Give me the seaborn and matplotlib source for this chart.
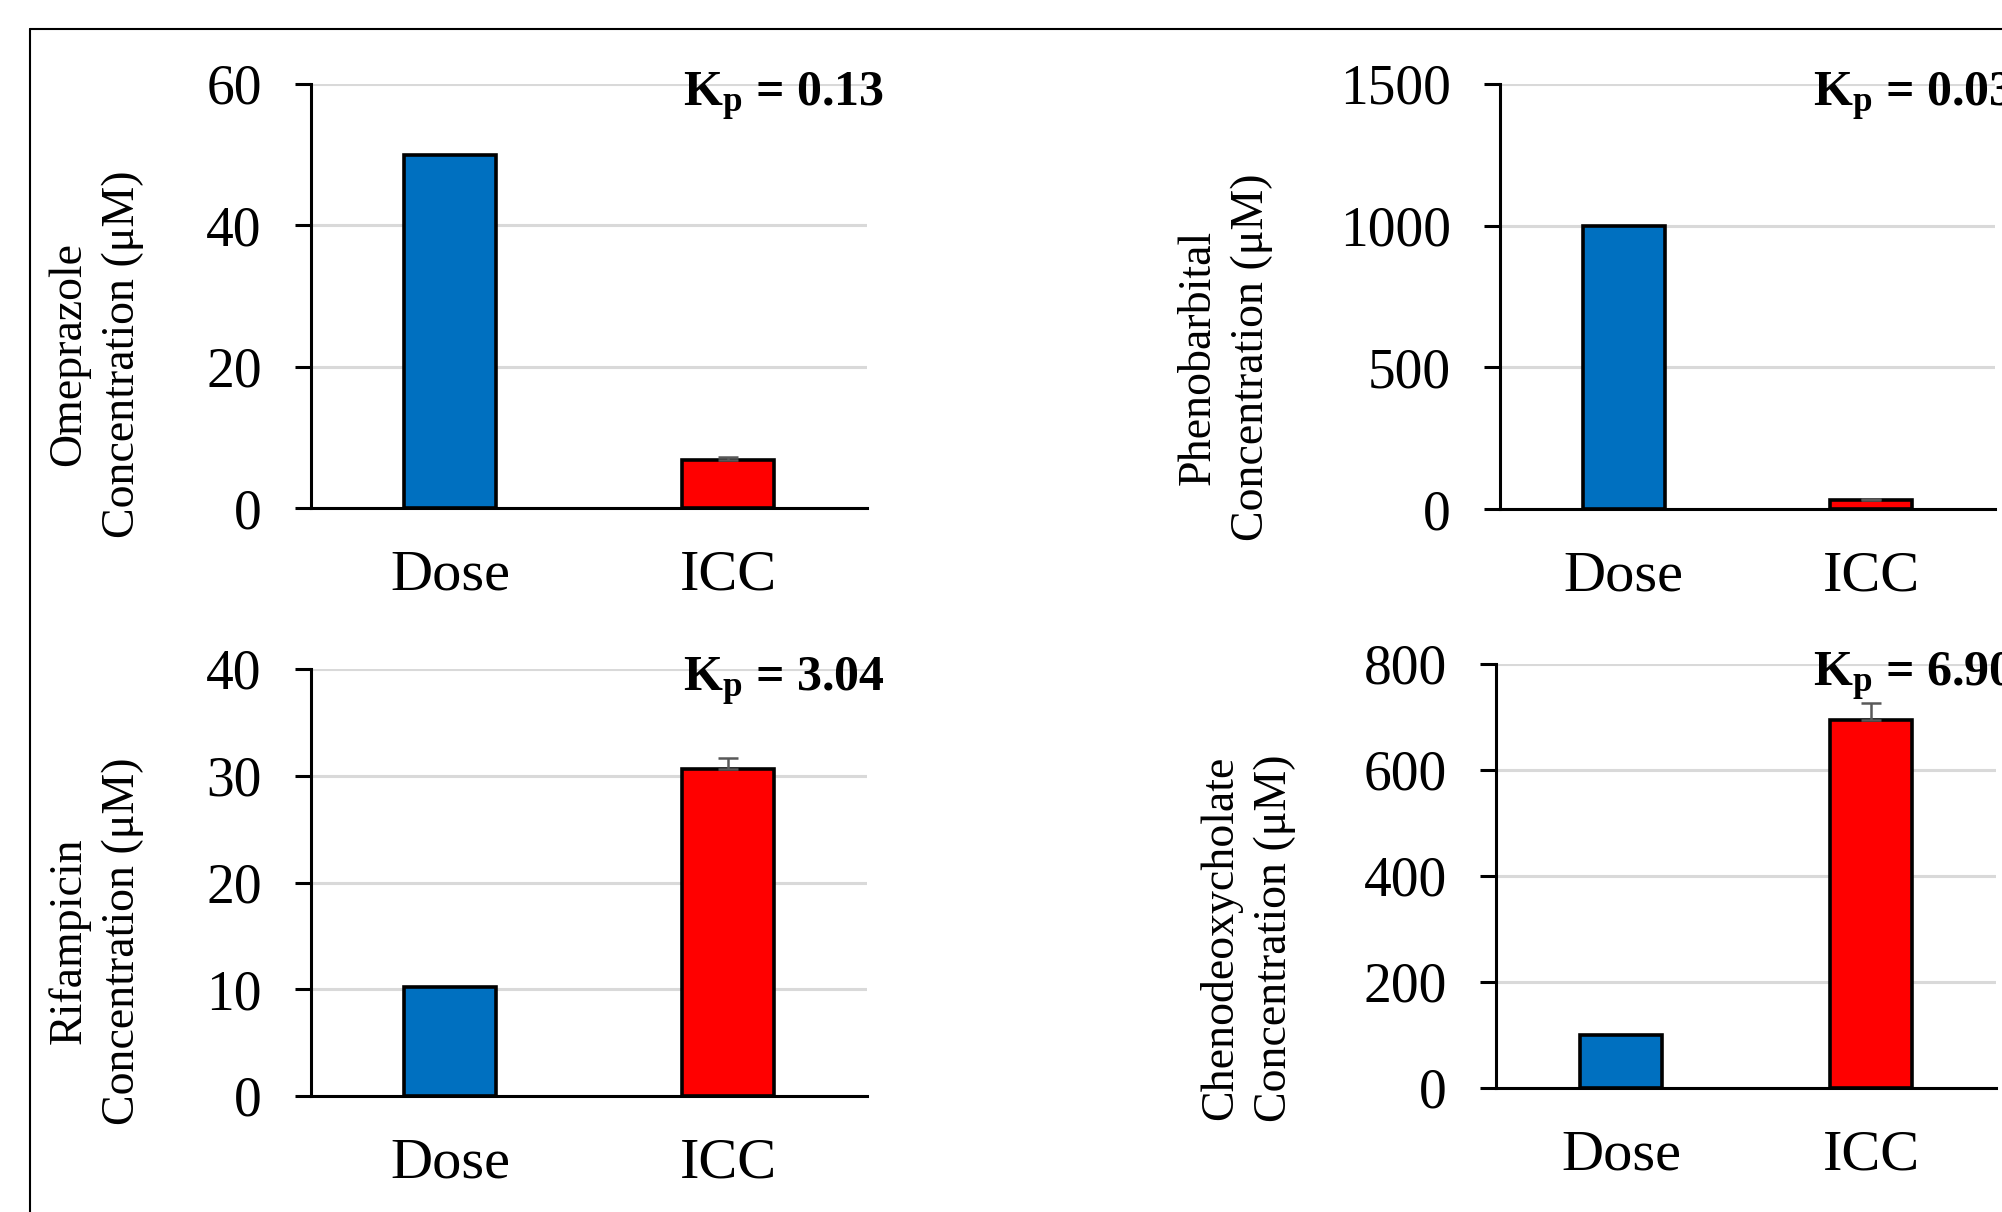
import matplotlib
matplotlib.use("Agg")
import matplotlib.pyplot as plt
import seaborn as sns
import pandas as pd
from matplotlib.lines import Line2D

# ---------------- data ----------------
categories = ["Dose", "ICC"]

omeprazole_vals = [50.0, 6.8]
omeprazole_err = [0.0, 0.4]
phenobarbital_vals = [1000.0, 32.0]
phenobarbital_err = [0.0, 5.0]
rifampicin_vals = [10.2, 30.6]
rifampicin_err = [0.0, 1.1]
cdca_vals = [100.0, 695.0]
cdca_err = [0.0, 32.0]

kp_labels = ["0.13", "0.03", "3.04", "6.90"]
ylabels = ["Omeprazole\nConcentration (μM)",
           "Phenobarbital\nConcentration (μM)",
           "Rifampicin\nConcentration (μM)",
           "Chenodeoxycholate\nConcentration (μM)"]
yticks_list = [[0, 20, 40, 60], [0, 500, 1000, 1500],
               [0, 10, 20, 30, 40], [0, 200, 400, 600, 800]]

# ---------------- style ----------------
sns.set_theme(style="white")
plt.rcParams["font.family"] = ["Liberation Serif", "DejaVu Serif"]
plt.rcParams["mathtext.fontset"] = "custom"
plt.rcParams["mathtext.rm"] = "Liberation Serif"
plt.rcParams["mathtext.bf"] = "Liberation Serif:bold"
plt.rcParams["mathtext.it"] = "Liberation Serif:italic"
for key in ["text.color", "axes.labelcolor", "xtick.color", "ytick.color"]:
    plt.rcParams[key] = "black"

BLUE = "#0070C0"
RED = "#FF0000"
GRID = "#D9D9D9"

fig = plt.figure(figsize=(20.02, 12.12), dpi=100)

W, H = 2002.0, 1212.0
def rect(l, r, t, b):
    return [l / W, 1 - b / H, (r - l) / W, (b - t) / H]

panels = [
    dict(pos=rect(311, 867, 84, 508), vals=omeprazole_vals, err=omeprazole_err,
         ylab=ylabels[0], ticks=yticks_list[0], kp=kp_labels[0],
         lab_xy=(96, 354), kp_xy=(683, 97)),
    dict(pos=rect(1500, 1995, 84, 509), vals=phenobarbital_vals, err=phenobarbital_err,
         ylab=ylabels[1], ticks=yticks_list[1], kp=kp_labels[1],
         lab_xy=(1225, 357), kp_xy=(1813, 97)),
    dict(pos=rect(311, 867, 669, 1096), vals=rifampicin_vals, err=rifampicin_err,
         ylab=ylabels[2], ticks=yticks_list[2], kp=kp_labels[2],
         lab_xy=(96, 941), kp_xy=(683, 682)),
    dict(pos=rect(1496, 1996, 664, 1088), vals=cdca_vals, err=cdca_err,
         ylab=ylabels[3], ticks=yticks_list[3], kp=kp_labels[3],
         lab_xy=(1248, 938), kp_xy=(1813, 677)),
]

for p in panels:
    ax = fig.add_axes(p["pos"])
    df = pd.DataFrame({"cat": categories, "val": p["vals"], "err": p["err"]})
    sns.barplot(data=df, x="cat", y="val", hue="cat", palette=[BLUE, RED],
                saturation=1, width=0.33, edgecolor="black", linewidth=2.6,
                legend=False, errorbar=None, ax=ax, zorder=3)
    e = df[df["err"] > 0]
    ax.errorbar(e["cat"], e["val"],
                yerr=[[0] * len(e), e["err"].tolist()],
                fmt="none", ecolor="#595959", elinewidth=1.8,
                capsize=7, capthick=1.8, zorder=4)
    ax.set_ylim(p["ticks"][0], p["ticks"][-1])
    ax.set_xlim(-0.5, 1.5)
    ax.set_yticks(p["ticks"])
    ax.set_xlabel("")
    ax.yaxis.grid(True, color=GRID, linewidth=2.2)
    ax.xaxis.grid(False)
    ax.set_axisbelow(True)
    for s in ["top", "right"]:
        ax.spines[s].set_visible(False)
    for s in ["left", "bottom"]:
        ax.spines[s].set_color("black")
        ax.spines[s].set_linewidth(2.2)
    ax.tick_params(axis="y", which="major", direction="out", length=11.5,
                   width=2.2, color="black", labelsize=40, pad=24, left=True,
                   labelcolor="black")
    ax.tick_params(axis="x", length=0, labelsize=42, pad=30, labelcolor="black")

    # y label
    ax.set_ylabel(p["ylab"], fontsize=33, va="center", linespacing=1.35,
                  color="black")
    pos = p["pos"]
    l_px, b_px = pos[0] * W, (1 - pos[1]) * H
    w_px, h_px = pos[2] * W, pos[3] * H
    lx, ly = p["lab_xy"]
    ax.yaxis.set_label_coords((lx - l_px) / w_px, (b_px - ly) / h_px)

    # Kp annotation
    kx, ky = p["kp_xy"]
    ax.text((kx - l_px) / w_px, (b_px - ky) / h_px,
            r"K$_{\mathbf{p}}$ = " + p["kp"], transform=ax.transAxes,
            fontsize=36, fontweight="bold", ha="left", va="center",
            color="black", clip_on=False, zorder=5)

# outer frame (partially cropped in the original)
fig.add_artist(Line2D([30 / W, 30 / W], [1 - 29 / H, -0.05],
                      transform=fig.transFigure, color="black", lw=1.5))
fig.add_artist(Line2D([30 / W, 1.05], [1 - 29 / H, 1 - 29 / H],
                      transform=fig.transFigure, color="black", lw=1.5))

fig.savefig("out.png", dpi=100, facecolor="white")
